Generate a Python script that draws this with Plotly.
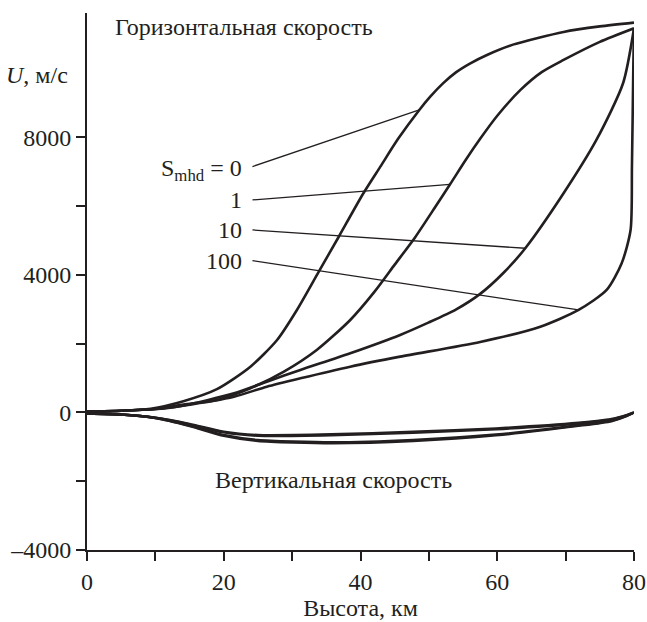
import numpy as np
import plotly.graph_objects as go

# Horizontal velocity, U (m/s) vs altitude (km), for S_mhd = 0, 1, 10, 100
h_s0 = [0, 5, 9.3, 14.1, 19.0, 23.9, 27.8, 30.7, 33.9, 36.8, 40.4, 42.9, 45.5, 48.6, 50.2, 52.1, 54, 56, 58.5, 62.3, 69.7, 75, 80]
u_s0 = [30, 50, 110, 330, 680, 1333, 2109, 2982, 4097, 5105, 6370, 7150, 7960, 8800, 9187, 9580, 9900, 10150, 10400, 10700, 11069, 11230, 11340]

h_s1 = [0, 5, 10, 14.1, 19.0, 23.9, 28.8, 33.6, 38.5, 42, 45, 48, 51, 53.1, 55.5, 57.5, 60, 63.4, 66.5, 69.7, 75, 80]
u_s1 = [30, 50, 100, 230, 364, 703, 1188, 1818, 2691, 3500, 4300, 5100, 6000, 6638, 7380, 7960, 8630, 9382, 9900, 10254, 10780, 11175]

h_s10 = [0, 5, 10, 14, 21.5, 26.3, 31.2, 38.5, 45.8, 50, 54, 57.5, 61, 64.1, 69.7, 74.5, 78.4, 80]
u_s10 = [30, 50, 100, 200, 558, 897, 1236, 1722, 2255, 2620, 3000, 3450, 4080, 4777, 6376, 7927, 9576, 11175]

h_s100 = [0, 5, 10, 14, 21.5, 26.3, 31.2, 38.5, 45.8, 57.5, 66.3, 71.9, 76.0, 78.2, 79.5, 79.7, 79.9, 80]
u_s100 = [30, 50, 100, 200, 461, 751, 994, 1333, 1624, 2050, 2496, 2982, 3564, 4340, 5309, 7150, 10059, 11175]

# Vertical velocity curves
h_v = [0, 5, 10, 15, 20, 25, 35.7, 47.7, 59.8, 71.9, 76.7, 79, 80]
v_1 = [-30, -60, -150, -330, -558, -655, -635, -558, -461, -300, -190, -70, 0]
v_2 = [-30, -60, -155, -345, -580, -680, -665, -590, -490, -320, -205, -80, 0]
v_3 = [-30, -60, -160, -380, -655, -800, -868, -800, -640, -373, -240, -90, 0]
v_4 = [-30, -60, -165, -395, -680, -830, -895, -830, -665, -390, -255, -100, 0]

labels = ["S<sub>mhd</sub> = 0", "1", "10", "100"]
label_u = [7054, 6182, 5309, 4416]
leader_h = [48.6, 53.1, 64.1, 71.9]

x_major = [0, 20, 40, 60, 80]
x_minor = [10, 30, 50, 70]
y_major = [-4000, 0, 4000, 8000]
y_major_text = ["\u20134000", "0", "4000", "8000"]
y_minor = [-2000, 2000, 6000]

ink = "#231f20"
font = "Liberation Serif"
fs = 24

fig = go.Figure()
for hx, uy in [(h_s0, u_s0), (h_s1, u_s1), (h_s10, u_s10), (h_s100, u_s100)]:
    fig.add_trace(go.Scatter(x=hx, y=uy, mode="lines",
                             line=dict(color=ink, width=2.6, shape="spline", smoothing=0.7),
                             showlegend=False, hoverinfo="skip", cliponaxis=False))
for vy in [v_1, v_2, v_3, v_4]:
    fig.add_trace(go.Scatter(x=h_v, y=vy, mode="lines",
                             line=dict(color=ink, width=2.4, shape="spline", smoothing=0.6),
                             showlegend=False, hoverinfo="skip", cliponaxis=False))

curves = [(h_s0, u_s0), (h_s1, u_s1), (h_s10, u_s10), (h_s100, u_s100)]
label_h_right = 22.9
for i, (hx, uy) in enumerate(curves):
    end_u = float(np.interp(leader_h[i], hx, uy))
    fig.add_shape(type="line", xref="x", yref="y",
                  x0=24.2, y0=label_u[i] + (100 if i == 0 else 0), x1=leader_h[i], y1=end_u,
                  line=dict(color=ink, width=1.3))
    fig.add_annotation(x=label_h_right, y=label_u[i], xref="x", yref="y",
                       text=labels[i], showarrow=False, xanchor="right", yanchor="middle",
                       font=dict(family=font, size=fs, color=ink))

fig.add_annotation(x=22.9, y=11214, xref="x", yref="y", text="Горизонтальная скорость",
                   showarrow=False, xanchor="center", yanchor="middle",
                   font=dict(family=font, size=fs, color=ink))
fig.add_annotation(x=36.1, y=-1964, xref="x", yref="y", text="Вертикальная скорость",
                   showarrow=False, xanchor="center", yanchor="middle",
                   font=dict(family=font, size=fs, color=ink))
fig.add_annotation(x=-0.031, y=9820, xref="paper", yref="y", text="<i>U</i>, м/с",
                   showarrow=False, xanchor="right", yanchor="middle",
                   font=dict(family=font, size=fs, color=ink))

fig.update_layout(
    width=647, height=622,
    margin=dict(l=87, r=13, t=13, b=72),
    paper_bgcolor="white", plot_bgcolor="white",
    font=dict(family=font, size=fs, color=ink),
    xaxis=dict(range=[0, 80], tickmode="array", tickvals=x_major,
               showgrid=False, zeroline=False, showline=True, linecolor=ink, linewidth=2,
               ticks="outside", ticklen=9, tickwidth=2, tickcolor=ink, automargin=False,
               minor=dict(tickmode="array", tickvals=x_minor, ticks="outside", ticklen=9,
                          tickwidth=2, tickcolor=ink, showgrid=False),
               title=dict(text="Высота, км", font=dict(family=font, size=fs, color=ink), standoff=4)),
    yaxis=dict(range=[-4000, 11620], tickmode="array", tickvals=y_major, ticktext=y_major_text,
               showgrid=False, zeroline=False, showline=True, linecolor=ink, linewidth=2,
               ticks="outside", ticklen=9, tickwidth=2, tickcolor=ink, automargin=False,
               minor=dict(tickmode="array", tickvals=y_minor, ticks="outside", ticklen=9,
                          tickwidth=2, tickcolor=ink, showgrid=False)),
)

fig.write_html("out.html", config={"displayModeBar": False},
               post_script="document.body.style.margin='0';document.body.style.overflow='hidden';")
